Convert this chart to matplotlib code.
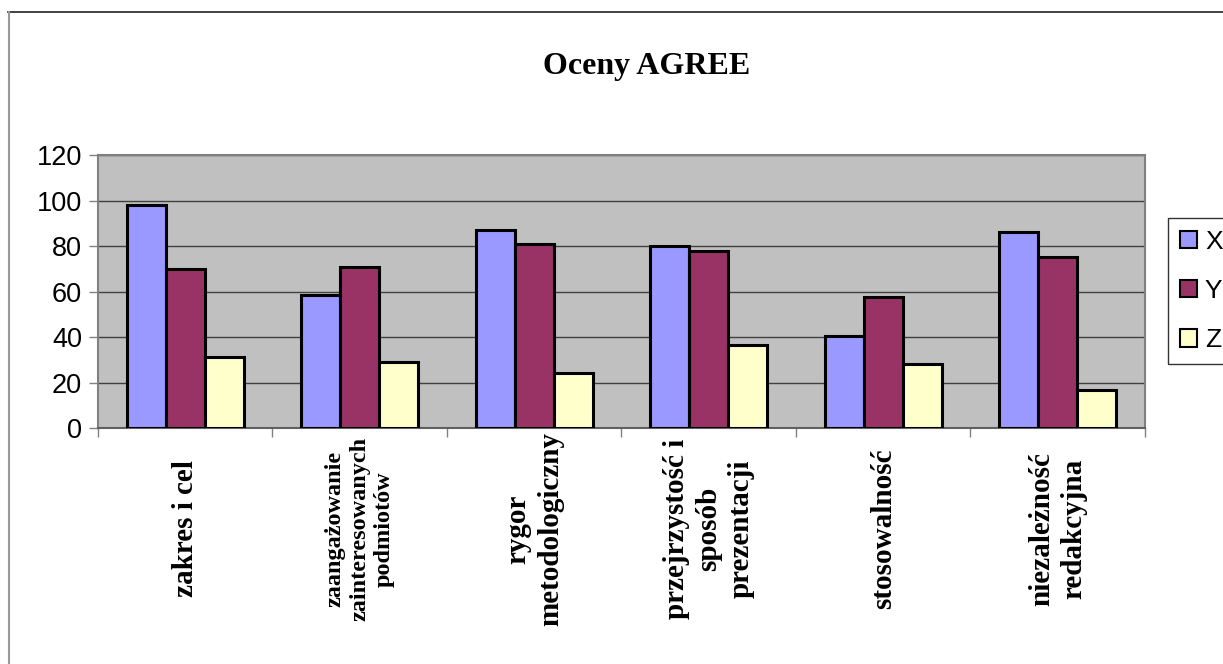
import matplotlib.pyplot as plt
import numpy as np
from matplotlib.lines import Line2D

categories = [
    "zakres i cel",
    "zaangażowanie\nzainteresowanych\npodmiotów",
    "rygor\nmetodologiczny",
    "przejrzystość i\nsposób\nprezentacji",
    "stosowalność",
    "niezależność\nredakcyjna",
]
x_scores = [98, 58.5, 87, 80, 40.5, 86]
y_scores = [70, 71, 81, 78, 57.5, 75]
z_scores = [31, 29, 24, 36.5, 28, 16.5]
series_names = ["X", "Y", "Z"]
yticks = [0, 20, 40, 60, 80, 100, 120]

colors = ["#9999FF", "#993366", "#FFFFCC"]
serif = ["Liberation Serif", "DejaVu Serif"]
sans = ["Liberation Sans", "DejaVu Sans"]

fig = plt.figure(figsize=(12.23, 6.64), dpi=100)
ax = fig.add_axes([0.0801, 0.3554, 0.8561, 0.4111])
ax.set_facecolor("#C0C0C0")

idx = np.arange(len(categories))
w = 0.2235
for k, vals in enumerate([x_scores, y_scores, z_scores]):
    ax.bar(idx + (k - 1) * w, vals, width=w, color=colors[k],
           edgecolor="black", linewidth=2.2, label=series_names[k], zorder=3)

ax.set_xlim(-0.5, len(categories) - 0.5)
ax.set_ylim(0, 120)
ax.set_yticks(yticks)
ax.set_yticklabels([str(t) for t in yticks], fontfamily=sans, fontsize=19.5)
ax.yaxis.grid(True, color="#404040", linewidth=1, zorder=1)
ax.tick_params(axis="y", direction="out", length=6.5, width=1, color="#808080", pad=5)

# ticks sit between the category groups
ax.set_xticks(np.arange(len(categories) + 1) - 0.5)
ax.set_xticklabels([])
ax.tick_params(axis="x", direction="out", length=6.5, width=1, color="#808080")

for side in ["left", "bottom", "top", "right"]:
    ax.spines[side].set_color("#808080")
    ax.spines[side].set_linewidth(1.5)
ax.spines["bottom"].set_color("#606060")

label_sizes = [21, 17.5, 21, 21, 21, 21]
for i, lab in enumerate(categories):
    ax.text(i, -0.37, lab, transform=ax.get_xaxis_transform(), rotation=90,
            ha="center", va="center", multialignment="center", linespacing=1.25,
            fontfamily=serif, fontweight="bold", fontsize=label_sizes[i])

fig.text(0.529, 0.9, "Oceny AGREE", ha="center", va="center",
         fontfamily=serif, fontweight="bold", fontsize=23)

leg = ax.legend(loc="upper left", bbox_to_anchor=(1168 / 1223, 1 - 218 / 664),
                bbox_transform=fig.transFigure, prop={"family": sans, "size": 19},
                frameon=True, fancybox=False, handlelength=0.65, handleheight=0.65,
                handletextpad=0.3, labelspacing=0.95, borderpad=0.45, borderaxespad=0)
leg.get_frame().set_edgecolor("black")
leg.get_frame().set_linewidth(1)
for h in leg.legend_handles:
    h.set_linewidth(1.5)

# outer chart border
fig.add_artist(Line2D([8 / 1223, 1], [652 / 664, 652 / 664],
                      transform=fig.transFigure, color="#222222", linewidth=1.2))
fig.add_artist(Line2D([8.5 / 1223, 8.5 / 1223], [0, 652 / 664],
                      transform=fig.transFigure, color="#999999", linewidth=1.5))

fig.savefig("out.png", dpi=100)
